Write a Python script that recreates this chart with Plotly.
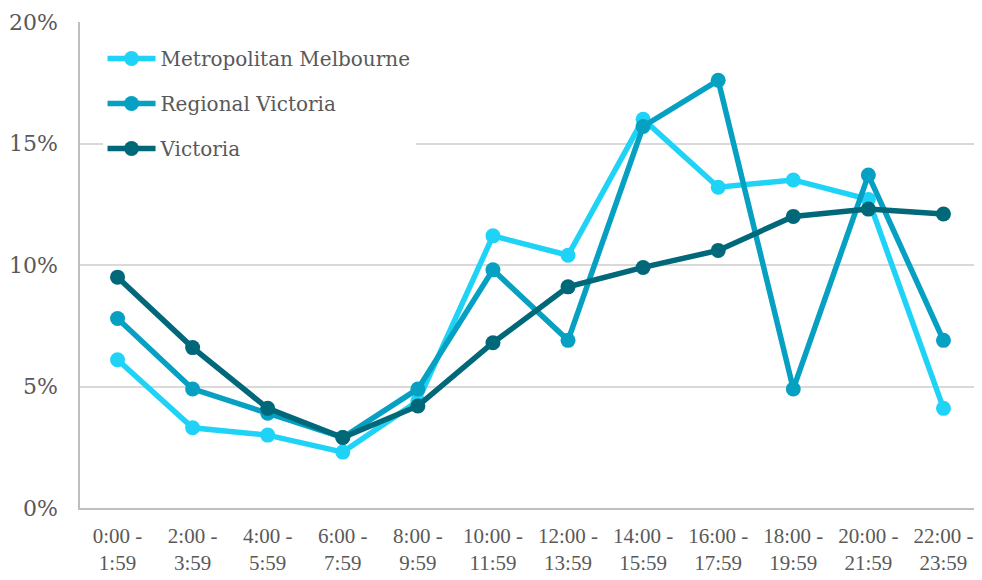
import plotly.graph_objects as go

categories = ["0:00 -<br>1:59", "2:00 -<br>3:59", "4:00 -<br>5:59", "6:00 -<br>7:59",
              "8:00 -<br>9:59", "10:00 -<br>11:59", "12:00 -<br>13:59", "14:00 -<br>15:59",
              "16:00 -<br>17:59", "18:00 -<br>19:59", "20:00 -<br>21:59", "22:00 -<br>23:59"]
metro = [6.1, 3.3, 3.0, 2.3, 4.4, 11.2, 10.4, 16.0, 13.2, 13.5, 12.7, 4.1]
regional = [7.8, 4.9, 3.9, 2.9, 4.9, 9.8, 6.9, 15.7, 17.6, 4.9, 13.7, 6.9]
victoria = [9.5, 6.6, 4.1, 2.9, 4.2, 6.8, 9.1, 9.9, 10.6, 12.0, 12.3, 12.1]
y_ticks = [0, 5, 10, 15, 20]
y_tick_labels = ["0%", "5%", "10%", "15%", "20%"]

series = [("Metropolitan Melbourne", metro, "#1FD3F7"),
          ("Regional Victoria", regional, "#05A0C2"),
          ("Victoria", victoria, "#006878")]

fig = go.Figure()
for name, vals, col in series:
    fig.add_trace(go.Scatter(x=categories, y=vals, name=name, mode="lines+markers",
                             legendgroup=name,
                             line=dict(color=col, width=5.5),
                             marker=dict(color=col, size=15)))

fig.update_layout(
    width=982, height=580,
    margin=dict(l=72, r=9, t=14, b=80),
    plot_bgcolor="white", paper_bgcolor="white",
    font=dict(family="DejaVu Serif, Liberation Serif, serif", color="#595959", size=20),
    legend=dict(x=0.025, y=0.965, xanchor="left", yanchor="top", bgcolor="white",
                font=dict(size=20, color="#595959"), tracegroupgap=16, itemwidth=48),
    xaxis=dict(showgrid=False, showline=True, linecolor="#BFBFBF", linewidth=1.5,
               tickfont=dict(size=21, family="Liberation Serif, serif"),
               ticks="", range=[-0.5, 11.5], automargin=False, ticklabelstandoff=8),
    yaxis=dict(range=[0, 20], tickvals=y_ticks, ticktext=y_tick_labels,
               showgrid=True, gridcolor="#D9D9D9", gridwidth=1.5,
               showline=True, linecolor="#BFBFBF", linewidth=1.5,
               zeroline=False, ticks="", ticklabelstandoff=16, automargin=False,
               tickfont=dict(size=22)),
)
fig.write_html("out.html")
